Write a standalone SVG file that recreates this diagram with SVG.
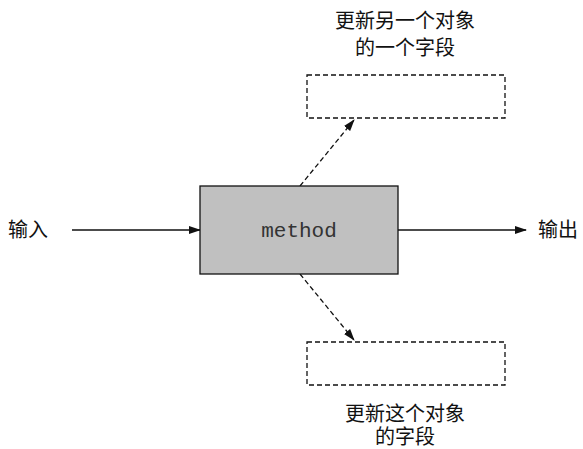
<svg xmlns="http://www.w3.org/2000/svg" width="583" height="449" viewBox="0 0 583 449">
<style>
.lbl{font-family:"Liberation Sans","Noto Sans CJK SC",sans-serif;font-size:20px;fill:#111;}
.mono{font-family:"Liberation Mono",monospace;font-size:21px;fill:#333;}
.solid{stroke:#111;stroke-width:1.3;fill:none;}
.dash{stroke:#111;stroke-width:1.3;fill:none;stroke-dasharray:5,3;}
</style>
<defs>
<marker id="ah" markerWidth="12" markerHeight="8" refX="11" refY="4" orient="auto" markerUnits="userSpaceOnUse">
<path d="M0,0 L12,4 L0,8 Z" fill="#111"/>
</marker>
</defs>
<rect width="583" height="449" fill="#fff"/>
<g id="connectors">
<line class="solid" x1="72" y1="230" x2="200" y2="230" marker-end="url(#ah)"/>
<line class="solid" x1="398" y1="230" x2="526" y2="230" marker-end="url(#ah)"/>
<line class="dash" x1="300" y1="186" x2="354" y2="120" marker-end="url(#ah)"/>
<line class="dash" x1="300" y1="274" x2="354" y2="340" marker-end="url(#ah)"/>
</g>
<g id="method">
<rect x="200" y="186" width="198" height="88" fill="#c0c0c0" stroke="#111" stroke-width="1.3"/>
<text class="mono" x="299" y="237" text-anchor="middle">method</text>
</g>
<g id="input">
<text class="lbl" x="8" y="237">输入</text>
</g>
<g id="output">
<text class="lbl" x="538" y="237">输出</text>
</g>
<g id="other-field">
<rect class="dash" x="307" y="75" width="198" height="43"/>
<text class="lbl" x="405" y="28" text-anchor="middle">更新另一个对象</text>
<text class="lbl" x="405" y="55" text-anchor="middle">的一个字段</text>
</g>
<g id="this-field">
<rect class="dash" x="307" y="342" width="198" height="43"/>
<text class="lbl" x="405" y="421" text-anchor="middle">更新这个对象</text>
<text class="lbl" x="405" y="444" text-anchor="middle">的字段</text>
</g>
</svg>
